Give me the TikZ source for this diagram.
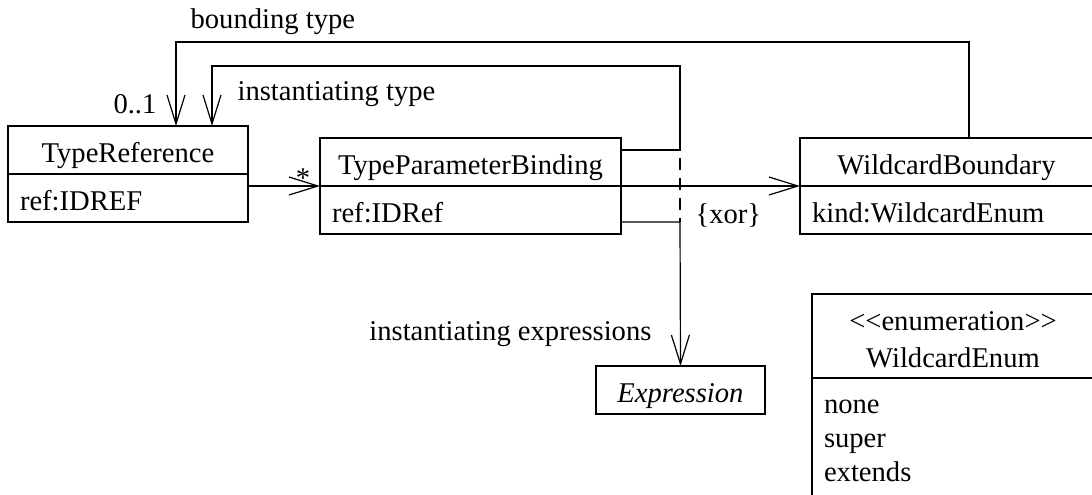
\documentclass[tikz,border=0pt]{standalone}
\usepackage{fontspec}
\setmainfont{Liberation Serif}
\usetikzlibrary{calc,arrows.meta,positioning}
\newcommand{\umlStereo}[1]{<\kern0pt<#1>\kern0pt>}
\tikzset{
  umlPart/.style={draw,inner sep=0pt,outer sep=0pt,text height=18pt,text depth=6pt},
  umlAttr/.style={umlPart,align=left,inner xsep=6pt},
  assoc/.style={-{Straight Barb[length=14.5pt,width=9pt]}},
  roleLabel/.style={inner sep=0pt}
}
\begin{document}
\begin{tikzpicture}[x=0.5pt,y=-0.5pt,line width=0.6pt,font=\fontsize{14.3}{17}\selectfont]
\useasboundingbox (0,0) rectangle (1092,494);
\clip (0,0) rectangle (1092,494);
\node[umlPart,anchor=north west,minimum width=120pt] (tr) at (8,126) {TypeReference};
\node[umlAttr,text width=108pt,below=0pt of tr] (tr-attr) {ref:IDREF};
\node[umlPart,anchor=north west,minimum width=150.5pt] (tpb) at (320,138) {TypeParameterBinding};
\node[umlAttr,text width=138.5pt,below=0pt of tpb] (tpb-attr) {ref:IDRef};
\node[umlPart,anchor=north west,minimum width=146.5pt] (wb) at (800,138) {WildcardBoundary};
\node[umlAttr,text width=134.5pt,below=0pt of wb] (wb-attr) {kind:WildcardEnum};
\node[umlPart,anchor=north west,minimum width=84.5pt,font=\fontsize{14.3}{17}\selectfont\itshape] (expr) at (596,366) {Expression};
\node[draw,inner sep=0pt,outer sep=0pt,anchor=north west,minimum width=141pt,text height=36.5pt,text depth=5.5pt,align=center,font=\fontsize{14.3}{18.5}\selectfont] (enum) at (812,294) {\umlStereo{enumeration}\\WildcardEnum};
\node[draw,outer sep=0pt,inner xsep=6pt,inner ysep=11pt,text width=129pt,align=left,below=0pt of enum] (enum-attr) {none\\super\\extends};
\coordinate (xortop) at (680,150);
\coordinate (xorbot) at (680,222);
\coordinate (itbend) at (680,66);
\coordinate (btbend) at (969,42);
\draw[assoc] (tr.east |- tpb.south) -- (tpb.south west);
\draw[assoc] (tpb.south east) -- (wb.south west);
\draw[assoc] (tpb.east |- xortop) -- (xortop) -- (itbend) -| ([xshift=42pt]tr.north);
\draw[assoc] (wb.north -| btbend) -- (btbend) -| ([xshift=24pt]tr.north);
\draw[assoc] (tpb.east |- xorbot) -- (xorbot) -- (expr.north);
\draw[dash pattern=on 6pt off 4pt,dash phase=6pt] (xortop) -- (xorbot);
\node[roleLabel,anchor=base west] (bt-label) at (190,28) {bounding type};
\node[roleLabel,anchor=base west] (it-label) at (237,100) {instantiating type};
\node[roleLabel,anchor=base east] (mult-tr) at (157,113) {0..1};
\node[roleLabel,anchor=base] (mult-tpb) at (303,187) {*};
\node[roleLabel,anchor=base west] (xor-label) at (695,223) {\{xor\}};
\node[roleLabel,anchor=base east] (ie-label) at (652,340) {instantiating expressions};
\end{tikzpicture}
\end{document}
